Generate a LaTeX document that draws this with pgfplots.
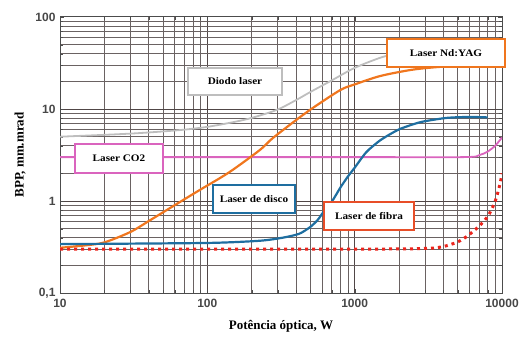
\documentclass[border=0pt]{standalone}
\usepackage{fontspec}
\setmainfont{Liberation Serif}
\newfontfamily\arialfont{Liberation Sans}
\usepackage{pgfplots}
\pgfplotsset{compat=1.18}
\definecolor{corange}{RGB}{240,118,30}
\definecolor{cblue}{RGB}{30,110,160}
\definecolor{cpink}{RGB}{218,100,190}
\definecolor{cred}{RGB}{236,36,28}
\definecolor{cgray}{RGB}{190,190,190}
\definecolor{cfib}{RGB}{232,78,40}
\definecolor{cgrid}{RGB}{80,70,70}
\begin{document}
\begin{tikzpicture}[x=1pt,y=1pt]
\path[use as bounding box] (-60,-47) rectangle (461,293);
\begin{axis}[at={(0,0)},anchor=south west,scale only axis,
  width=442pt,height=276pt,
  xmode=log,ymode=log,xmin=10,xmax=10000,ymin=0.1,ymax=100,
  grid=both,
  major grid style={draw=cgrid,line width=1pt},
  minor grid style={draw=cgrid!85,line width=0.8pt},
  xtick={10,100,1000,10000},xticklabels={10,100,1000,10000},
  ytick={0.1,1,10,100},yticklabels={{0,1},1,10,100},
  tick label style={font=\arialfont\bfseries\fontsize{12}{13}\selectfont,text=black!72},
  xticklabel style={yshift=-3pt},
  yticklabel style={xshift=-1pt},
  axis line style={draw=black!70,line width=1pt},
  major tick style={draw=black!70},
  minor tick style={draw=black!70},
  xlabel={\bfseries Potência óptica, W},
  ylabel={\bfseries BPP, mm.mrad},
  label style={font=\bfseries\fontsize{13}{15}\selectfont},
  xlabel style={at={(axis description cs:0.5,-0.12)},anchor=center},
  ylabel style={at={(axis description cs:-0.09,0.5)},anchor=center},
]
% Diodo laser (gray)
\addplot[cgray,line width=1.8pt,smooth] coordinates {
(10,5.0) (30,5.4) (65,5.9) (100,6.4) (150,7.2) (200,8.0) (297,9.8) (400,12.5) (500,15.3) (700,20.5) (1000,28) (1486,36) (2000,41)};
% CO2 (pink)
\addplot[cpink,line width=1.8pt,smooth] coordinates {
(10,3.0) (1000,3.0) (5500,3.0) (7000,3.15) (8000,3.45) (9000,4.0) (10000,4.9)};
% Nd:YAG (orange)
\addplot[corange,line width=2.2pt,smooth] coordinates {
(10,0.31) (15,0.33) (20,0.355) (30,0.46) (41,0.62) (60,0.9) (89,1.32) (120,1.75) (150,2.2) (228,3.6) (279,4.85) (427,8.2) (498,9.8) (795,16) (1000,18.5) (1486,22.8) (2377,26.5) (3390,28.3) (5000,29.5) (7000,30)};
% Disco (blue)
\addplot[cblue,line width=2.2pt,smooth,tension=0.4] coordinates {
(10,0.34) (100,0.35) (228,0.37) (327,0.4) (420,0.44) (498,0.52) (560,0.62) (610,0.75) (660,0.88) (713,1.03) (800,1.4) (900,1.85) (1000,2.3) (1200,3.4) (1500,4.6) (2000,6.0) (2800,7.2) (4200,8.0) (6000,8.2) (8000,8.1)};
% Fibra (red dotted)
\addplot[cred,line width=3pt,dash pattern=on 3pt off 4pt,smooth] coordinates {
(10,0.3) (1000,0.3) (3000,0.305) (4000,0.32) (5200,0.37) (6500,0.48) (7950,0.67) (9000,1.0) (9700,1.55) (10000,2.0)};
\end{axis}
\tikzset{lbl/.style={fill=white,inner sep=0pt,font=\bfseries\fontsize{10}{12}\selectfont}}
\node[lbl,draw=cgray,line width=1.5pt,minimum width=94pt,minimum height=27pt] at (175,211.5) {\scalebox{1.12}[1]{Diodo laser}};
\node[lbl,draw=corange,line width=2.4pt,minimum width=118pt,minimum height=28pt] at (386,240) {\scalebox{1.12}[1]{Laser Nd:YAG}};
\node[lbl,draw=cpink,line width=1.6pt,minimum width=88pt,minimum height=29pt] at (59,134.5) {\scalebox{1.12}[1]{Laser CO2}};
\node[lbl,draw=cblue,line width=2pt,minimum width=82pt,minimum height=28pt] at (194,94) {\scalebox{1.12}[1]{Laser de disco}};
\node[lbl,draw=cfib,line width=2pt,minimum width=90pt,minimum height=28pt] at (309,77) {\scalebox{1.12}[1]{Laser de fibra}};
\end{tikzpicture}
\end{document}
